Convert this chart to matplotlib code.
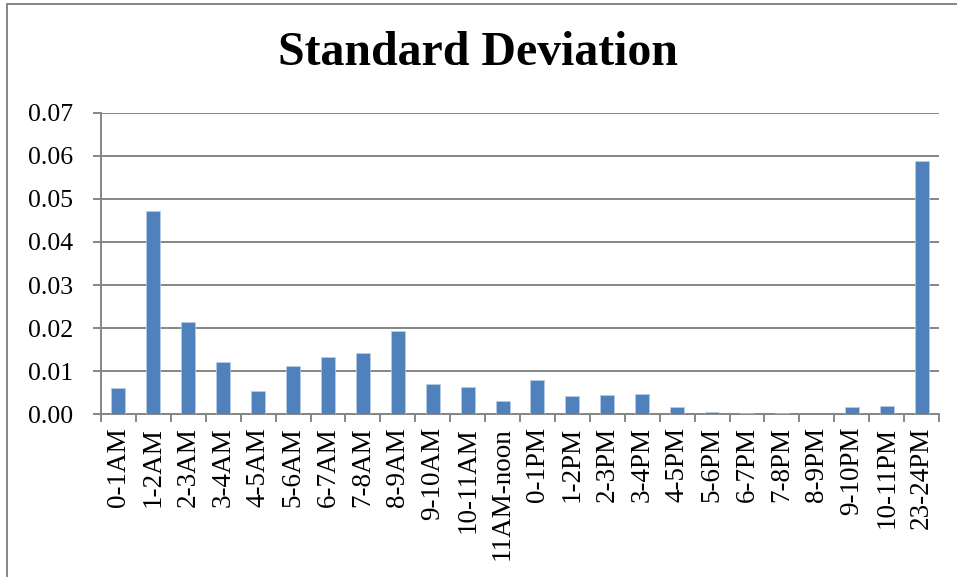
import matplotlib.pyplot as plt
import numpy as np
from matplotlib.patches import Rectangle

# hourly standard deviation values
hours = ['0-1AM', '1-2AM', '2-3AM', '3-4AM', '4-5AM', '5-6AM', '6-7AM',
         '7-8AM', '8-9AM', '9-10AM', '10-11AM', '11AM-noon', '0-1PM',
         '1-2PM', '2-3PM', '3-4PM', '4-5PM', '5-6PM', '6-7PM', '7-8PM',
         '8-9PM', '9-10PM', '10-11PM', '23-24PM']
std_dev = [0.0061, 0.0471, 0.0214, 0.0121, 0.0053, 0.0111, 0.0133,
           0.0142, 0.0194, 0.0070, 0.0063, 0.0030, 0.0079, 0.0043,
           0.0044, 0.0048, 0.0017, 0.0005, 0.0003, 0.0003, 0.0001,
           0.0017, 0.0019, 0.0587]
y_ticks = [0.00, 0.01, 0.02, 0.03, 0.04, 0.05, 0.06, 0.07]

plt.rcParams['font.family'] = ['Liberation Serif', 'DejaVu Serif']
grey = '#868686'

W, H = 957, 577
fig = plt.figure(figsize=(W / 100, H / 100), dpi=100)
ax = fig.add_axes([101 / W, (H - 414.3) / H, (939 - 101) / W, (414.3 - 112.7) / H])

x = np.arange(len(hours))
ax.bar(x, std_dev, width=0.4, color='#4F81BD', edgecolor='#B9CDE5',
       linewidth=0.5, zorder=3)

ax.set_xlim(-0.5, len(hours) - 0.5)
ax.set_ylim(0, 0.07)
ax.set_yticks(y_ticks)
ax.set_yticklabels(['{:.2f}'.format(v) for v in y_ticks], fontsize=18.5)
ax.yaxis.grid(True, color=grey, linewidth=1.4, zorder=0)

# category labels centred on bars, tick marks between categories
ax.set_xticks(x)
ax.set_xticklabels(hours, rotation=90, fontsize=19.5)
ax.tick_params(axis='x', length=0, pad=9)
ax.set_xticks(np.arange(-0.5, len(hours)), minor=True)
ax.tick_params(axis='x', which='minor', length=6, width=1.4, color=grey)
ax.tick_params(axis='y', length=6, width=1.4, color=grey, pad=14)

for side in ['top', 'right']:
    ax.spines[side].set_visible(False)
for side in ['left', 'bottom']:
    ax.spines[side].set_color(grey)
    ax.spines[side].set_linewidth(1.4)

fig.text(0.5, 1 - 53 / H, 'Standard Deviation', ha='center', va='center',
         fontsize=34.5, fontweight='bold')

# outer chart border (right edge falls outside the picture)
fig.patches.append(Rectangle((7 / W, -0.01), 1.0, 1 - 3.5 / H + 0.01,
                             transform=fig.transFigure, fill=False,
                             edgecolor=grey, linewidth=1.4))

fig.savefig('out.png', dpi=100)
